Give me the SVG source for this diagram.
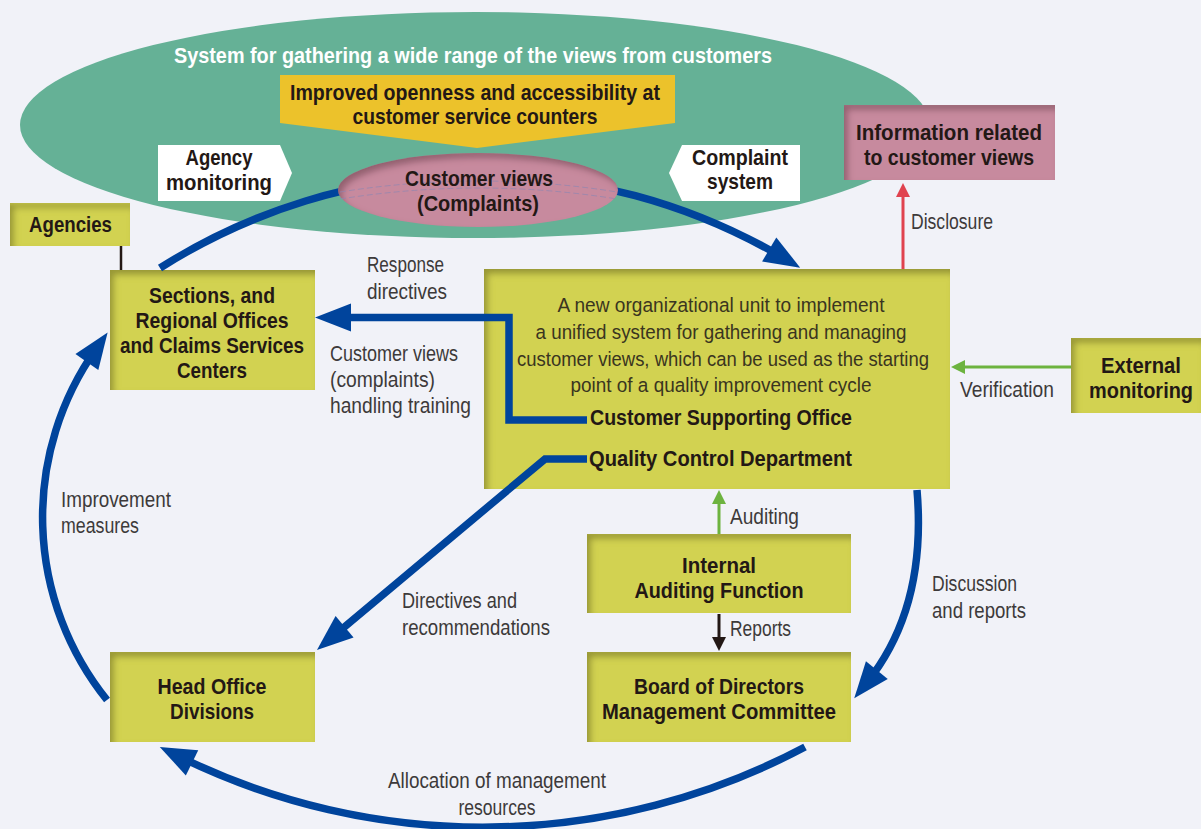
<svg xmlns="http://www.w3.org/2000/svg" width="1201" height="829" viewBox="0 0 1201 829">
<defs>
<style>
.box{fill:#d2d251}
.pink{fill:#c78a9e}
.b{font-family:"Liberation Sans",Arial,sans-serif;font-weight:bold;font-size:22px;fill:#231815}
.r{font-family:"Liberation Sans",Arial,sans-serif;font-size:22px;fill:#3d3a3a}
.d{font-family:"Liberation Sans",Arial,sans-serif;font-size:20.5px;fill:#3a3520}
.m{text-anchor:middle}
.blue{fill:none;stroke:#00449c;stroke-width:7.5}
.thin{fill:none;stroke-width:3}
</style>
<filter id="inset" x="-10%" y="-10%" width="120%" height="120%">
<feComponentTransfer in="SourceAlpha" result="inv"><feFuncA type="table" tableValues="1 0"/></feComponentTransfer>
<feGaussianBlur in="inv" stdDeviation="3"/>
<feOffset dx="4" dy="5" result="ob"/>
<feFlood flood-color="#3a3500" flood-opacity="0.55"/>
<feComposite in2="ob" operator="in"/>
<feComposite in2="SourceAlpha" operator="in" result="sh"/>
<feMerge><feMergeNode in="SourceGraphic"/><feMergeNode in="sh"/></feMerge>
</filter>
<filter id="insetp" x="-10%" y="-10%" width="120%" height="120%">
<feComponentTransfer in="SourceAlpha" result="inv"><feFuncA type="table" tableValues="1 0"/></feComponentTransfer>
<feGaussianBlur in="inv" stdDeviation="3"/>
<feOffset dx="4" dy="5" result="ob"/>
<feFlood flood-color="#4a1025" flood-opacity="0.55"/>
<feComposite in2="ob" operator="in"/>
<feComposite in2="SourceAlpha" operator="in" result="sh"/>
<feMerge><feMergeNode in="SourceGraphic"/><feMergeNode in="sh"/></feMerge>
</filter>
<marker id="bh" markerUnits="userSpaceOnUse" viewBox="-18 -16 40 32" markerWidth="40" markerHeight="32" refX="0" refY="0" orient="auto">
<path d="M20,0 L-16,-14 L-16,14 Z" fill="#00449c"/>
</marker>
<marker id="gh" markerUnits="userSpaceOnUse" viewBox="-2 -8 18 16" markerWidth="18" markerHeight="16" refX="0" refY="0" orient="auto">
<path d="M14,0 L0,-7 L0,7 Z" fill="#6db33f"/>
</marker>
<marker id="rh" markerUnits="userSpaceOnUse" viewBox="-2 -8 18 16" markerWidth="18" markerHeight="16" refX="0" refY="0" orient="auto">
<path d="M14,0 L0,-7 L0,7 Z" fill="#e0434f"/>
</marker>
<marker id="kh" markerUnits="userSpaceOnUse" viewBox="-2 -8 18 16" markerWidth="18" markerHeight="16" refX="0" refY="0" orient="auto">
<path d="M14,0 L0,-7 L0,7 Z" fill="#231815"/>
</marker>
</defs>
<rect width="1201" height="829" fill="#f1f2f8"/>

<g id="gathering-system">
<ellipse cx="475" cy="125" rx="455" ry="113" fill="#65b196"/>
<text class="b m" x="473" y="63" style="fill:#ffffff" textLength="598" lengthAdjust="spacingAndGlyphs">System for gathering a wide range of the views from customers</text>
</g>

<g id="openness-banner">
<polygon points="280,75 675,75 675,123 477,148 280,123" fill="#ecc22b"/>
<text class="b m" x="475" y="100" textLength="370" lengthAdjust="spacingAndGlyphs">Improved openness and accessibility at</text>
<text class="b m" x="475" y="124" textLength="245" lengthAdjust="spacingAndGlyphs">customer service counters</text>
</g>

<g id="agency-monitoring">
<polygon points="158,145 280,145 292,173 280,201 158,201" fill="#ffffff"/>
<text class="b m" x="219" y="165" textLength="67" lengthAdjust="spacingAndGlyphs">Agency</text>
<text class="b m" x="219" y="190" textLength="106" lengthAdjust="spacingAndGlyphs">monitoring</text>
</g>

<g id="complaint-system">
<polygon points="682,145 800,145 800,201 682,201 669,173" fill="#ffffff"/>
<text class="b m" x="740" y="165" textLength="96" lengthAdjust="spacingAndGlyphs">Complaint</text>
<text class="b m" x="740" y="189" textLength="66" lengthAdjust="spacingAndGlyphs">system</text>
</g>

<g id="info-disclosure">
<rect x="844" y="105" width="211" height="75" class="pink" filter="url(#insetp)"/>
<text class="b m" x="949" y="140" textLength="186" lengthAdjust="spacingAndGlyphs">Information related</text>
<text class="b m" x="949" y="165" textLength="170" lengthAdjust="spacingAndGlyphs">to customer views</text>
</g>

<g id="agencies">
<rect x="10" y="203" width="120" height="43" class="box" filter="url(#inset)"/>
<text class="b m" x="70.5" y="232" textLength="83" lengthAdjust="spacingAndGlyphs">Agencies</text>
</g>

<g id="sections">
<rect x="110" y="270" width="205" height="120" class="box" filter="url(#inset)"/>
<text class="b m" x="212" y="303" textLength="126" lengthAdjust="spacingAndGlyphs">Sections, and</text>
<text class="b m" x="212" y="328" textLength="153" lengthAdjust="spacingAndGlyphs">Regional Offices</text>
<text class="b m" x="212" y="353" textLength="184" lengthAdjust="spacingAndGlyphs">and Claims Services</text>
<text class="b m" x="212" y="378" textLength="70" lengthAdjust="spacingAndGlyphs">Centers</text>
</g>

<g id="customer-supporting-office">
<rect x="484" y="269" width="466" height="220" class="box" filter="url(#inset)"/>
<text class="d m" x="721" y="312" textLength="327" lengthAdjust="spacingAndGlyphs">A new organizational unit to implement</text>
<text class="d m" x="721" y="339" textLength="371" lengthAdjust="spacingAndGlyphs">a unified system for gathering and managing</text>
<text class="d m" x="723" y="366" textLength="412" lengthAdjust="spacingAndGlyphs">customer views, which can be used as the starting</text>
<text class="d m" x="721" y="392" textLength="301" lengthAdjust="spacingAndGlyphs">point of a quality improvement cycle</text>
<text class="b" x="590" y="425" textLength="262" lengthAdjust="spacingAndGlyphs">Customer Supporting Office</text>
<text class="b" x="589" y="466" textLength="263" lengthAdjust="spacingAndGlyphs">Quality Control Department</text>
</g>

<g id="external-monitoring">
<rect x="1071" y="338" width="130" height="75" class="box" filter="url(#inset)"/>
<text class="b m" x="1141" y="373" textLength="80" lengthAdjust="spacingAndGlyphs">External</text>
<text class="b m" x="1141" y="398" textLength="104" lengthAdjust="spacingAndGlyphs">monitoring</text>
</g>

<g id="internal-auditing">
<rect x="587" y="534" width="264" height="79" class="box" filter="url(#inset)"/>
<text class="b m" x="719" y="573" textLength="74" lengthAdjust="spacingAndGlyphs">Internal</text>
<text class="b m" x="719" y="598" textLength="169" lengthAdjust="spacingAndGlyphs">Auditing Function</text>
</g>

<g id="board">
<rect x="587" y="652" width="264" height="90" class="box" filter="url(#inset)"/>
<text class="b m" x="719" y="694" textLength="170" lengthAdjust="spacingAndGlyphs">Board of Directors</text>
<text class="b m" x="719" y="719" textLength="234" lengthAdjust="spacingAndGlyphs">Management Committee</text>
</g>

<g id="head-office">
<rect x="110" y="652" width="205" height="90" class="box" filter="url(#inset)"/>
<text class="b m" x="212" y="694" textLength="109" lengthAdjust="spacingAndGlyphs">Head Office</text>
<text class="b m" x="212" y="719" textLength="84" lengthAdjust="spacingAndGlyphs">Divisions</text>
</g>

<g id="connectors">
<path class="blue" d="M160,268 A597,597 0 0 1 783,257.6" marker-end="url(#bh)"/>
<path class="blue" d="M587,420 H509 V317.5 H335" marker-end="url(#bh)"/>
<path class="blue" d="M587,459 H545 L332.3,637.1" marker-end="url(#bh)"/>
<path class="blue" d="M917,490 Q927,608 866.8,682.6" marker-end="url(#bh)"/>
<path class="blue" d="M805,747 A688,688 0 0 1 177.7,755.8" marker-end="url(#bh)"/>
<path class="blue" d="M107,700 A291.5,291.5 0 0 1 96.1,348.9" marker-end="url(#bh)"/>
<path class="thin" stroke="#6db33f" d="M1071,367 H965" marker-end="url(#gh)"/>
<path class="thin" stroke="#6db33f" d="M719,534 V504" marker-end="url(#gh)"/>
<path class="thin" stroke="#e0434f" d="M903,269 V197" marker-end="url(#rh)"/>
<path class="thin" stroke="#231815" d="M719,614 V637" marker-end="url(#kh)"/>
<path fill="none" stroke="#231815" stroke-width="2.5" d="M121,246 V270"/>
</g>

<g id="customer-views">
<ellipse cx="478" cy="190" rx="140" ry="37" class="pink" filter="url(#insetp)"/>
<path d="M340,192 Q480,170 617,192" fill="none" stroke="#8f86b0" stroke-width="1" stroke-dasharray="6,3" opacity="0.7"/>
<path d="M340,199 Q480,177 617,199" fill="none" stroke="#8f86b0" stroke-width="1" stroke-dasharray="6,3" opacity="0.7"/>
<text class="b m" x="479" y="186" textLength="148" lengthAdjust="spacingAndGlyphs">Customer views</text>
<text class="b m" x="478" y="211" textLength="122" lengthAdjust="spacingAndGlyphs">(Complaints)</text>
</g>

<g id="labels">
<text class="r" x="367" y="272" textLength="77" lengthAdjust="spacingAndGlyphs">Response</text>
<text class="r" x="367" y="299" textLength="80" lengthAdjust="spacingAndGlyphs">directives</text>
<text class="r" x="330" y="361" textLength="128" lengthAdjust="spacingAndGlyphs">Customer views</text>
<text class="r" x="330" y="387" textLength="105" lengthAdjust="spacingAndGlyphs">(complaints)</text>
<text class="r" x="330" y="413" textLength="141" lengthAdjust="spacingAndGlyphs">handling training</text>
<text class="r" x="61" y="507" textLength="110" lengthAdjust="spacingAndGlyphs">Improvement</text>
<text class="r" x="61" y="533" textLength="78" lengthAdjust="spacingAndGlyphs">measures</text>
<text class="r" x="402" y="608" textLength="115" lengthAdjust="spacingAndGlyphs">Directives and</text>
<text class="r" x="402" y="635" textLength="148" lengthAdjust="spacingAndGlyphs">recommendations</text>
<text class="r m" x="497" y="788" textLength="218" lengthAdjust="spacingAndGlyphs">Allocation of management</text>
<text class="r m" x="497" y="815" textLength="77" lengthAdjust="spacingAndGlyphs">resources</text>
<text class="r" x="932" y="591" textLength="85" lengthAdjust="spacingAndGlyphs">Discussion</text>
<text class="r" x="932" y="618" textLength="94" lengthAdjust="spacingAndGlyphs">and reports</text>
<text class="r" x="730" y="636" textLength="61" lengthAdjust="spacingAndGlyphs">Reports</text>
<text class="r" x="730" y="524" textLength="69" lengthAdjust="spacingAndGlyphs">Auditing</text>
<text class="r" x="960" y="397" textLength="94" lengthAdjust="spacingAndGlyphs">Verification</text>
<text class="r" x="911" y="229" textLength="82" lengthAdjust="spacingAndGlyphs">Disclosure</text>
</g>
</svg>
